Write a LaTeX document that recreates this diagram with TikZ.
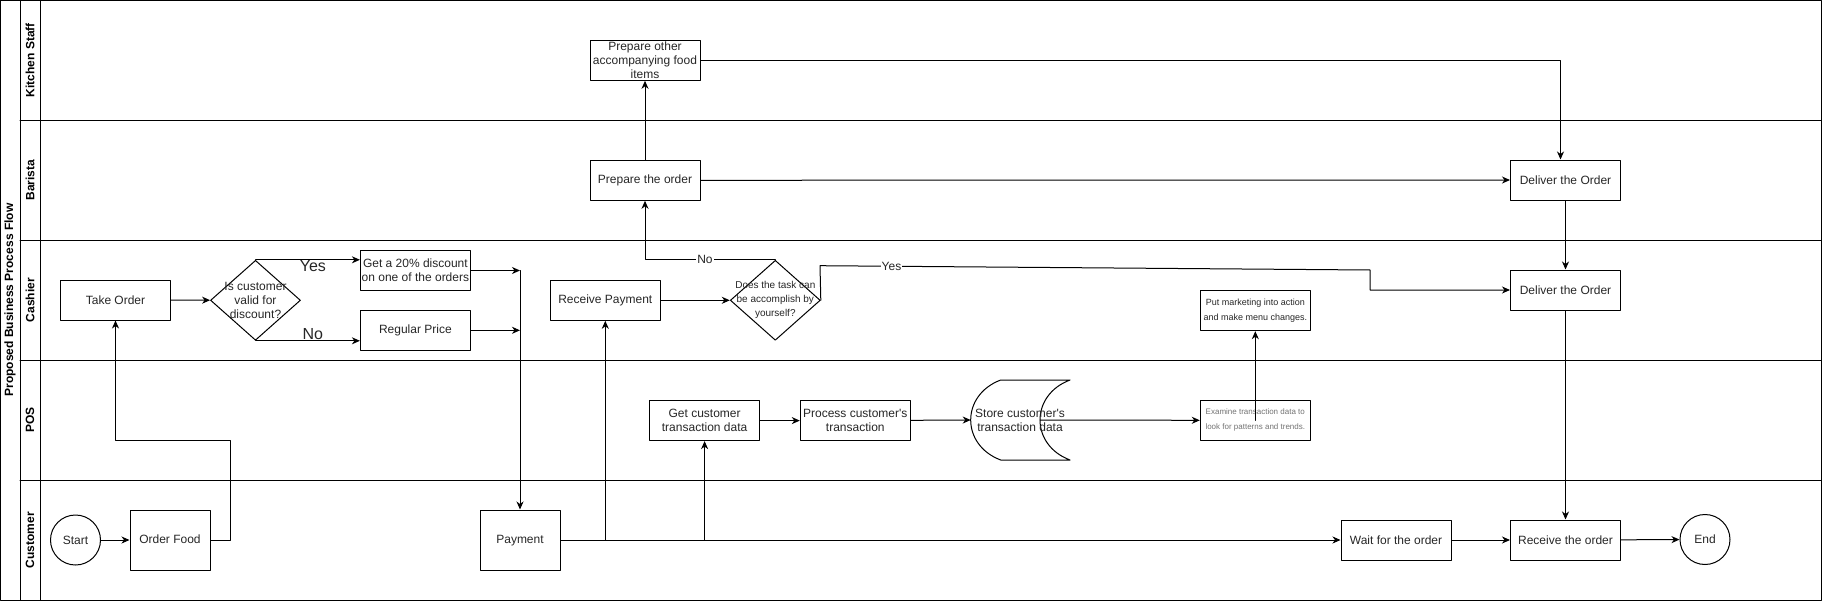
\documentclass[tikz,border=0pt]{standalone}
\usepackage{fontspec}
\setmainfont{Liberation Sans}
\usepackage{tikz}
\usetikzlibrary{arrows.meta,calc,positioning,shapes.geometric}

\begin{document}
\begin{tikzpicture}[line cap=round,line join=round,>={Stealth[length=8pt,width=7pt,inset=2.5pt]},
x=1pt,y=-1pt,line width=1pt,
every node/.style={font=\fontsize{12}{14}\selectfont,text=black!85},
box/.style={draw,minimum width=110pt,minimum height=40pt,inner sep=0pt,align=center},
tall/.style={box,minimum width=80pt,minimum height=60pt,text height=1.6ex,text depth=0.4ex},
dec/.style={draw,diamond,minimum width=90pt,minimum height=80pt,inner sep=0pt},
term/.style={draw,circle,minimum size=50pt,inner sep=0pt},
lane/.style={rotate=90,font=\bfseries\fontsize{12}{14}\selectfont,text=black},
big/.style={font=\fontsize{16}{18}\selectfont},
lbl/.style={fill=white,inner sep=1pt,font=\fontsize{12}{14}\selectfont}]
\useasboundingbox (0,0) rectangle (1832,602);
% swimlanes
\draw (0.5,0.5) rectangle (1821,600);
\draw (20,0.5) -- (20,600) (40,0.5) -- (40,600);
\foreach \y in {120,240,360,480}
  \draw (20,\y) -- (1821,\y);
\node[lane] (title) at (10,300) {Proposed Business Process Flow};
\foreach \y/\name in {60/Kitchen Staff,180/Barista,300/Cashier,420/POS,540/Customer}
  \node[lane] (lane\y) at (30,\y) {\name};

% kitchen staff + barista
\node[box] (prepOther) at (645,60.3) {Prepare other\\accompanying food\\items};
\node[box] (prepOrder) at (645,180.3) {Prepare the order};
\node[box] (deliverB) at (1565.5,180) {Deliver the Order};

% cashier
\node[box] (takeOrder) at (115.5,300) {Take Order};
\node[dec] (disc) at (255.5,300.3) {};
\node[align=center] (discTxt) at (disc) {Is customer\\valid for\\discount?};
\node[box] (get20) at (415.4,270.5) {Get a 20\% discount\\on one of the orders};
\node[box] (regular) at (415.4,330.3) {Regular Price};
\node[box] (receivePay) at (605.3,300.3) {Receive Payment};
\node[dec] (task) at (775.3,300.3) {};
\node[align=center,font=\fontsize{10}{14}\selectfont] (taskTxt) at (task) {Does the task can\\be accomplish by\\yourself?};
\node[box] (deliverC) at (1565.5,290) {Deliver the Order};
\node[box,font=\fontsize{9}{15.5}\selectfont] (mkt) at (1255.3,310.7) {Put marketing into action\\and make menu changes.};

% pos
\node[box] (getCust) at (704.6,420.6) {Get customer\\transaction data};
\node[box] (processC) at (855.3,420.6) {Process customer\textquotesingle s\\transaction};
\draw (1000.7,380) -- (1070,380) .. controls (1030,395) and (1030,445) .. (1070,460)
  -- (1000.7,460) .. controls (960.7,445) and (960.7,395) .. (1000.7,380) -- cycle;
\coordinate (storeIn) at (970.7,420);
\coordinate (storeOut) at (1040,420);
\node[align=center] (store) at (1020,420) {Store customer\textquotesingle s\\transaction data};
\node[box,font=\fontsize{8}{15}\selectfont,text=black!55] (exam) at (1255.3,420.3) {Examine transaction data to\\look for patterns and trends.};

% customer
\node[term] (startC) at (75.5,540) {Start};
\node[tall] (orderFood) at (170,540) {Order Food};
\node[tall] (payment) at (520,540) {Payment};
\node[box] (wait) at (1396,540) {Wait for the order};
\node[box] (receiveO) at (1565.5,540) {Receive the order};
\node[term] (endC) at (1705,539.5) {End};

% connectors
\coordinate (bendA) at (230,440.3);
\coordinate (merge) at (payment.north |- get20.east);
\coordinate (yesA) at (820,265.7);
\coordinate (yesB) at (1370,270);
\draw[->] (startC) -- (orderFood);
\draw[->] (orderFood.east) -| (bendA) -| (takeOrder.south);
\draw[->] (takeOrder) -- (disc);
\draw[->] (disc.north) -- node[big,pos=0.55,below=-3pt] (yesLbl) {Yes} (disc.north -| get20.west);
\draw[->] (disc.south) -- node[big,pos=0.55,above=-3pt] (noLbl) {No} (disc.south -| regular.west);
\draw[->] (get20.east) -- (merge);
\draw[->] (regular.east) -- (payment.north |- regular.east);
\draw[->] (merge) -- (payment.north);
\draw[->] (payment.east) -- (wait.west);
\draw[->] (payment.east -| receivePay.south) -- (receivePay.south);
\draw[->] (payment.east -| getCust.south) -- (getCust.south);
\draw[->] (receivePay) -- (task);
\draw[->] (task.north) -| node[lbl,pos=0.27] (noTask) {No} (prepOrder.south);
\draw[->] (task.east) -- (yesA) -- node[lbl,pos=0.13] (yesTask) {Yes} (yesB) -- (yesB |- deliverC.west) -- (deliverC.west);
\draw[->] (prepOrder) -- (prepOther);
\draw[->] (prepOrder) -- (deliverB);
\draw[->] (prepOther.east) -| ([xshift=-5pt]deliverB.north);
\draw[->] (deliverB) -- (deliverC);
\draw[->] (deliverC) -- (receiveO);
\draw[->] (wait) -- (receiveO);
\draw[->] (receiveO) -- (endC);
\draw[->] (getCust) -- (processC);
\draw[->] (processC) -- (storeIn);
\draw[->] (storeOut) -- (exam.west);
\draw[->] (exam.center) -- (mkt.south);
\end{tikzpicture}
\end{document}
